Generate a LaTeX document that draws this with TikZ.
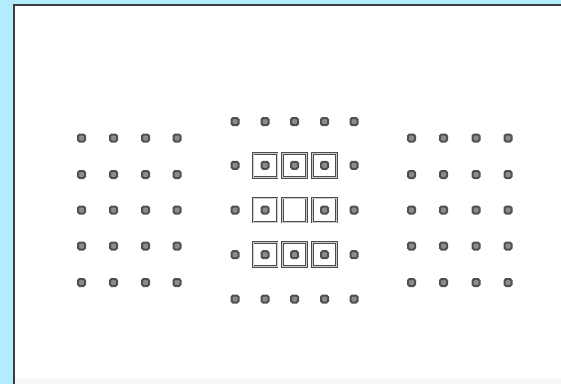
\documentclass[tikz,border=0pt]{standalone}
\usetikzlibrary{positioning}
\definecolor{bgblue}{RGB}{178,236,253}
\definecolor{dotgray}{RGB}{80,80,80}
\definecolor{dotfill}{RGB}{140,140,140}
\definecolor{framegray}{RGB}{60,60,60}
\tikzset{
  afpoint/.style={draw=dotgray, fill=dotfill, line width=2pt, rounded corners=1.5pt,
    minimum size=7pt, inner sep=0pt, outer sep=0pt},
  afbox/.style={draw=black!70, line width=1pt, double=white!60!gray, double distance=0.7pt,
    minimum size=24pt, inner sep=0pt, outer sep=0pt}
}
\begin{document}
\begin{tikzpicture}[x=1pt,y=-1pt]
\useasboundingbox (0,0) rectangle (561,384);
\fill[bgblue] (0,0) rectangle (561,384);
\fill[white] (13.5,4.5) rectangle (561,384);
\draw[framegray, line width=2pt] (13.5,384) -- (13.5,4.5) -- (561,4.5);
\fill[black!3] (14.5,378) rectangle (561,384);
% left group
\foreach \c/\x in {1/81.5,2/113.5,3/145.5,4/177}{
  \foreach \r/\y in {1/138,2/174.5,3/210,4/246,5/282.5}{
    \node[afpoint] (L\r\c) at (\x,\y) {};
  }
}
% right group
\foreach \c/\x in {1/411.5,2/443.5,3/476,4/508}{
  \foreach \r/\y in {1/138,2/174.5,3/210,4/246,5/282.5}{
    \node[afpoint] (R\r\c) at (\x,\y) {};
  }
}
% middle group boxes
\foreach \c/\x in {2/265,3/294.5,4/324.5}{
  \foreach \r/\y in {2/165.3,3/210,4/254.7}{
    \node[afbox] (B\r\c) at (\x,\y) {};
  }
}
% middle group points
\foreach \c/\x in {1/235,2/265,3/294.5,4/324.5,5/354}{
  \foreach \r/\y in {1/121.6,2/165.3,3/210,4/254.7,5/299}{
    \pgfmathtruncatemacro{\skip}{(\r==3 && \c==3) ? 1 : 0}
    \ifnum\skip=0
      \node[afpoint] (M\r\c) at (\x,\y) {};
    \fi
  }
}
\end{tikzpicture}
\end{document}
